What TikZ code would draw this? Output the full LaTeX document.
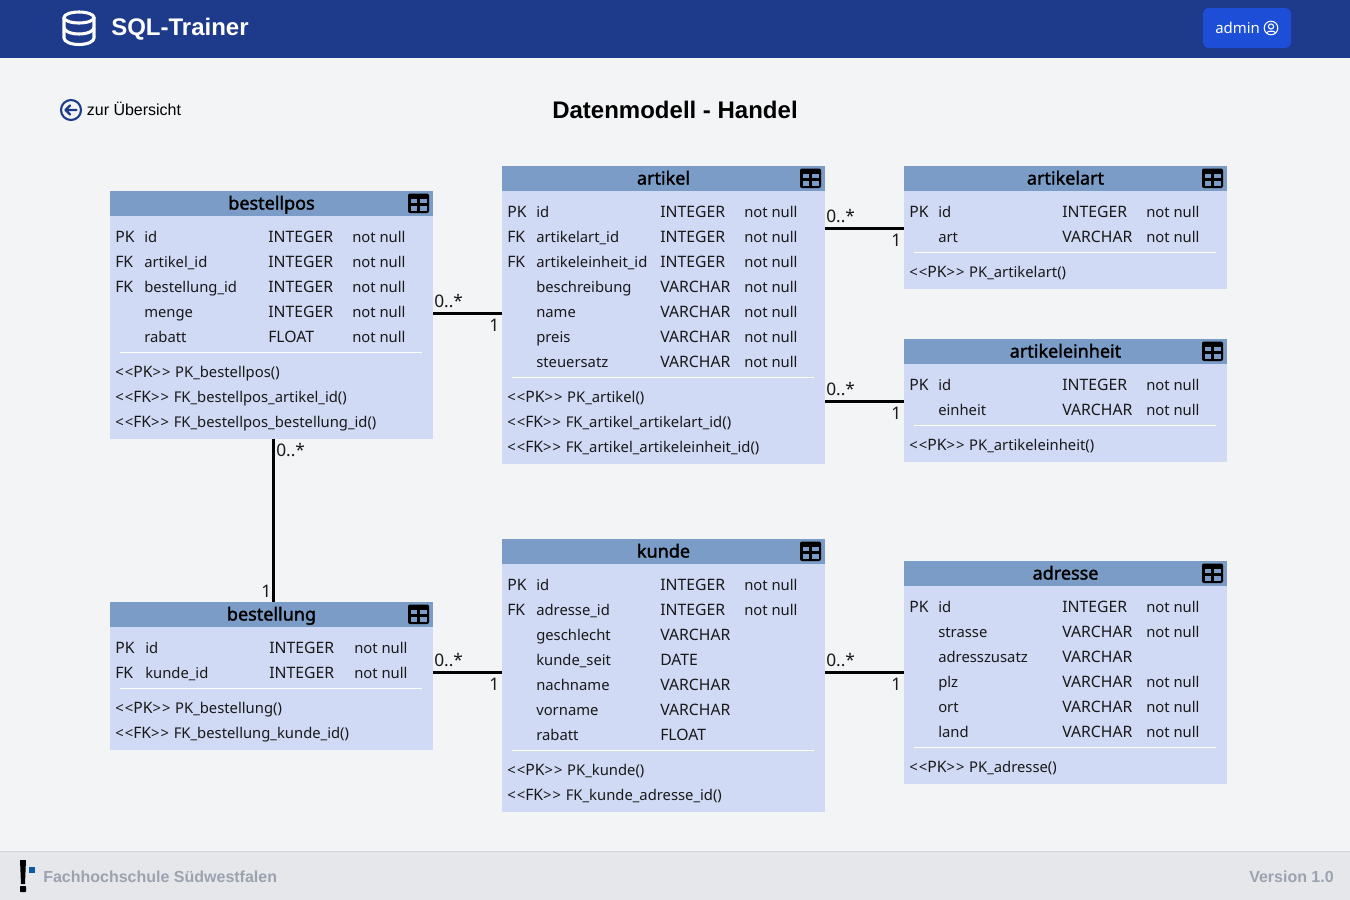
\documentclass[tikz,border=0pt]{standalone}
\usepackage{fontspec}
\setmainfont{Noto Sans}
\newfontfamily\hdfont{Liberation Sans}
\newfontfamily\titlefont{Noto Sans}[FakeBold=1.6]
\usetikzlibrary{calc,positioning}
\definecolor{barblue}{HTML}{1E3A8A}
\definecolor{btnblue}{HTML}{1D4ED8}
\definecolor{pagebg}{HTML}{F3F4F6}
\definecolor{footbg}{HTML}{E5E7EB}
\definecolor{footline}{HTML}{D1D5DB}
\definecolor{foottxt}{HTML}{9CA3AF}
\definecolor{headblue}{HTML}{7A9CC6}
\definecolor{bodyblue}{HTML}{D1DAF5}
\definecolor{logoblue}{HTML}{0B5AA8}
\tikzset{
	ent body/.style={fill=bodyblue,inner sep=0pt,outer sep=0pt,anchor=north west,minimum width=242.25pt},
	ent head/.style={fill=headblue,inner sep=0pt,outer sep=0pt,anchor=north west,minimum width=242.25pt,
		minimum height=18.75pt,text height=13.9pt,text depth=4.85pt,font=\titlefont\fontsize{13.5}{15}\selectfont,text=black},
	row/.style={inner sep=0pt,anchor=base west,font=\fontsize{11.1}{13}\selectfont,text=black!90},
	rowcap/.style={row,font=\fontsize{11.8}{13}\selectfont},
	sep rule/.style={draw=white,line width=.9pt},
	rel/.style={draw=black,line width=2pt},
	card/.style={inner sep=0pt,font=\fontsize{13}{15}\selectfont,text=black!90},
	hd/.style={inner sep=0pt,font=\hdfont\fontsize{#1}{20}\selectfont},
	hd/.default=12
}
\newcommand{\pkm}{<\kern.8pt<{\fontsize{11.8}{13}\selectfont PK}>\kern.8pt>\kern.6pt}
\newcommand{\fkm}{<\kern.8pt<{\fontsize{11.8}{13}\selectfont FK}>\kern.8pt>\kern.6pt}
% [column shift] name, left, top, no. of rows, no. of methods, rows, methods
\newcommand{\entity}[8][0]{
	\pgfmathsetlengthmacro{\entheight}{(25+20.5+25*(#5-1)+16+19+25*(#6-1)+17)*.75pt}
	\node[ent body,minimum height=\entheight] (#2) at (#3,#4) {};
	\node[ent head] (#2_head) at (#3,#4) {#2};
	\fill[black,rounded corners=1.5pt] (#3+298,#4+2.5) rectangle (#3+319,#4+22);
	\foreach \ca/\cb in {300.7/307.3,310/317.3} {
		\fill[headblue] (#3+\ca,#4+8) rectangle (#3+\cb,#4+12.3);
		\fill[headblue] (#3+\ca,#4+14.7) rectangle (#3+\cb,#4+20);
	}
	\foreach \ky/\fd/\ty/\nn [count=\i from 0] in {#7} {
		\node[rowcap] (#2_k\i) at (#3+5,#4+51.5+25*\i) {\ky};
		\node[row] (#2_f\i) at (#3+34+#1,#4+51.5+25*\i) {\fd};
		\node[rowcap] (#2_t\i) at (#3+158+#1,#4+51.5+25*\i) {\ty};
		\node[row] (#2_n\i) at (#3+242+2*#1,#4+51.5+25*\i) {\nn};
	}
	\pgfmathsetmacro{\ruley}{#4+61.5+25*(#5-1)}
	\draw[sep rule] (#3+10,\ruley) -- (#3+312,\ruley);
	\foreach \mt [count=\i from 0] in {#8} {
		\node[row] (#2_m\i) at (#3+5,\ruley+24.5+25*\i) {\mt};
	}
}
\begin{document}
\begin{tikzpicture}[x=.75pt,y=-.75pt]
	\useasboundingbox (0,0) rectangle (1350,900);
	\fill[pagebg] (0,0) rectangle (1350,900);
	% top bar
	\fill[barblue] (0,0) rectangle (1350,58);
	\begin{scope}[draw=white,line width=2.3pt]
		\draw (79,17.5) ellipse (15 and 5.5);
		\draw (64,17.5) -- (64,38) arc[start angle=180,end angle=0,x radius=15,y radius=6.5] -- (94,17.5);
		\draw (64,27.5) arc[start angle=180,end angle=0,x radius=15,y radius=6.5];
	\end{scope}
	\node[hd=18,text=white,anchor=west] (brand) at (111,29) {\bfseries SQL-Trainer};
	\node[fill=btnblue,rounded corners=4pt,minimum width=66pt,minimum height=30pt,inner sep=0pt] (admin) at (1247,28) {};
	\node[row,text=white,anchor=west,font=\fontsize{11.2}{14}\selectfont] (adminlbl) at (1215,28) {admin};
	\draw[white,line width=.8pt] (1271,28) circle (6.8);
	\draw[white,line width=.8pt] (1271,26.5) circle (2.6);
	\draw[white,line width=.8pt] (1266.2,33) arc[start angle=200,end angle=340,x radius=5.1,y radius=3];
	% title line
	\draw[barblue,line width=1.6pt] (71,110) circle (10);
	\draw[barblue,line width=1.6pt,line cap=round,line join=round] (76.5,110) -- (65.5,110) (70,105.5) -- (65.5,110) -- (70,114.5);
	\node[hd=12,anchor=west] (back) at (86.6,108.8) {zur Übersicht};
	\node[hd=18] (title) at (675,110) {\bfseries Datenmodell - Handel};
	% entities
	\entity{bestellpos}{110}{191}{5}{3}{PK/id/INTEGER/not null,FK/artikel\_id/INTEGER/not null,FK/bestellung\_id/INTEGER/not null,{}/menge/INTEGER/not null,{}/rabatt/FLOAT/not null}
		{\pkm{} PK\_bestellpos(),\fkm{} FK\_bestellpos\_artikel\_id(),\fkm{} FK\_bestellpos\_bestellung\_id()}
	\entity{artikel}{502}{166}{7}{3}{PK/id/INTEGER/not null,FK/artikelart\_id/INTEGER/not null,FK/artikeleinheit\_id/INTEGER/not null,{}/beschreibung/VARCHAR/not null,{}/name/VARCHAR/not null,{}/preis/VARCHAR/not null,{}/steuersatz/VARCHAR/not null}
		{\pkm{} PK\_artikel(),\fkm{} FK\_artikel\_artikelart\_id(),\fkm{} FK\_artikel\_artikeleinheit\_id()}
	\entity{artikelart}{904}{166}{2}{1}{PK/id/INTEGER/not null,{}/art/VARCHAR/not null}
		{\pkm{} PK\_artikelart()}
	\entity{artikeleinheit}{904}{339}{2}{1}{PK/id/INTEGER/not null,{}/einheit/VARCHAR/not null}
		{\pkm{} PK\_artikeleinheit()}
	\entity[1]{bestellung}{110}{602}{2}{2}{PK/id/INTEGER/not null,FK/kunde\_id/INTEGER/not null}
		{\pkm{} PK\_bestellung(),\fkm{} FK\_bestellung\_kunde\_id()}
	\entity{kunde}{502}{539}{7}{2}{PK/id/INTEGER/not null,FK/adresse\_id/INTEGER/not null,{}/geschlecht/VARCHAR/{},{}/kunde\_seit/DATE/{},{}/nachname/VARCHAR/{},{}/vorname/VARCHAR/{},{}/rabatt/FLOAT/{}}
		{\pkm{} PK\_kunde(),\fkm{} FK\_kunde\_adresse\_id()}
	\entity{adresse}{904}{561}{6}{1}{PK/id/INTEGER/not null,{}/strasse/VARCHAR/not null,{}/adresszusatz/VARCHAR/{},{}/plz/VARCHAR/not null,{}/ort/VARCHAR/not null,{}/land/VARCHAR/not null}
		{\pkm{} PK\_adresse()}
	% relations
	\foreach \a/\b/\y in {bestellpos/artikel/313.5,artikel/artikelart/228.5,artikel/artikeleinheit/401.5,bestellung/kunde/672.5,kunde/adresse/672.5} {
		\coordinate (\a_\b_y) at (0,\y);
		\draw[rel] (\a.east |- \a_\b_y) -- (\b.west |- \a_\b_y);
		\node[card,anchor=base west] (\a_\b_many) at ([xshift=.75pt,yshift=4.3pt]\a.east |- \a_\b_y) {0..*};
		\node[card,anchor=base east] (\a_\b_one) at ([xshift=-1.8pt,yshift=-13.5pt]\b.west |- \a_\b_y) {1};
	}
	\coordinate (vert_x) at (273.5,0);
	\draw[rel] (vert_x |- bestellpos.south) -- (vert_x |- bestellung.north);
	\node[card,anchor=west] (pos_many) at (276,450) {0..*};
	\node[card,anchor=east] (pos_one) at (271.5,591) {1};
	% footer
	\fill[footbg] (0,852) rectangle (1350,900);
	\draw[footline,line width=.75pt] (0,851.5) -- (1350,851.5);
	\fill[black] (20,860) -- (26,860) -- (25,884) -- (21,884) -- cycle;
	\fill[black,rounded corners=.5pt] (20,886) rectangle (26,892);
	\fill[logoblue] (29,867) rectangle (35,872.5);
	\node[hd=12,text=foottxt,anchor=west] (fh) at (43,876.7) {\bfseries Fachhochschule Südwestfalen};
	\node[hd=12,text=foottxt,anchor=east] (version) at (1334,876.7) {\bfseries Version 1.0};
\end{tikzpicture}
\end{document}
